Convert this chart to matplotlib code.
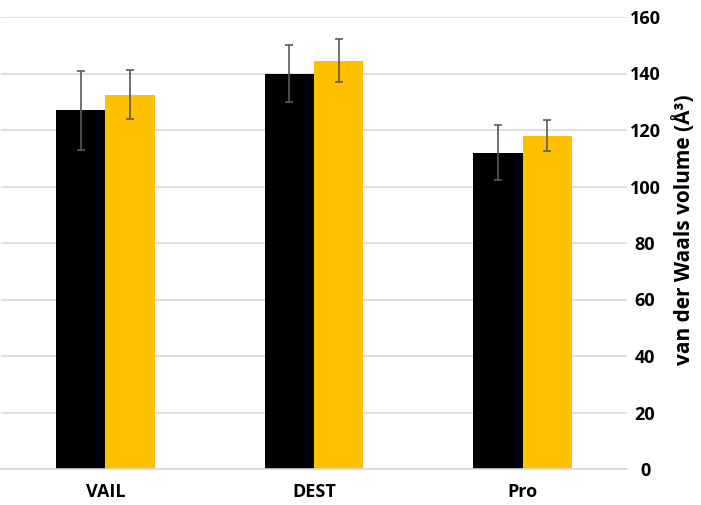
import numpy as np
import matplotlib
matplotlib.use("Agg")
import matplotlib.pyplot as plt

categories = ["VAIL", "DEST", "Pro"]
black_vals = [127, 140, 112]
black_err = [14, 10.2, 9.8]
yellow_vals = [132.5, 144.5, 118]
yellow_err = [8.7, 7.6, 5.6]
y_ticks = [0, 20, 40, 60, 80, 100, 120, 140, 160]

plt.rcParams["font.family"] = ["Open Sans", "DejaVu Sans"]

fig = plt.figure(figsize=(7.01, 5.05), dpi=100)
ax = fig.add_axes([1 / 701, 1 - 469 / 505, 626 / 701, 452 / 505])

x = np.arange(len(categories))
w = 0.237
err_kw = dict(ecolor="#595959", elinewidth=1.2, capsize=3, capthick=1.2)
ax.bar(x - w / 2, black_vals, w, color="black", yerr=black_err, error_kw=err_kw, zorder=2)
ax.bar(x + w / 2, yellow_vals, w, color="#ffc000", yerr=yellow_err, error_kw=err_kw, zorder=2)

ax.set_xlim(-0.5, 2.5)
ax.set_ylim(0, 160)
ax.set_yticks(y_ticks)
ax.yaxis.tick_right()
ax.tick_params(axis="y", length=0, pad=13, labelsize=13)
ax.tick_params(axis="x", length=0, pad=10, labelsize=13)
for lbl in ax.get_yticklabels():
    lbl.set_fontweight("bold")
    lbl.set_horizontalalignment("center")
ax.set_xticks(x)
ax.set_xticklabels(categories, fontweight="bold")

fig.text(684 / 701, 1 - 230 / 505, "van der Waals volume (Å³)", rotation=90,
         ha="center", va="center", fontsize=15, fontweight="bold")

ax.grid(axis="y", color="#d9d9d9", linewidth=1.2, zorder=0)
for s in ["top", "left", "right"]:
    ax.spines[s].set_visible(False)
ax.spines["bottom"].set_color("#d9d9d9")
ax.spines["bottom"].set_linewidth(1.2)

fig.savefig("out.png", dpi=100)
